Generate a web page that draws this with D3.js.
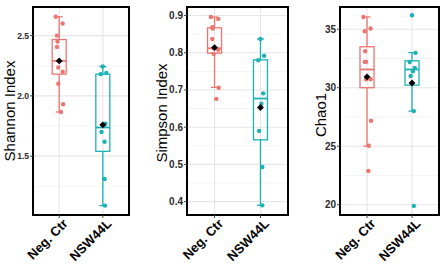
<!DOCTYPE html>
<html><head><meta charset="utf-8">
<script src="https://cdn.jsdelivr.net/npm/d3@7"></script>
<style>body{margin:0;background:#fff}svg{display:block}</style>
</head><body>
<svg id="c" width="447" height="268"></svg>
<script>
// ---- data ----
const categories = ["Neg. Ctr", "NSW44L"];
const metrics = ["Shannon Index", "Simpson Index", "Chao1"];
// raw points per metric per group
const shannonNeg = [2.656, 2.60, 2.50, 2.45, 2.405, 2.235, 2.20, 2.10, 1.93, 1.866];
const shannonNSW = [2.243, 2.19, 2.18, 1.77, 1.755, 1.70, 1.62, 1.31, 1.09];
const simpsonNeg = [0.896, 0.891, 0.869, 0.865, 0.837, 0.812, 0.808, 0.797, 0.706, 0.676];
const simpsonNSW = [0.837, 0.792, 0.780, 0.691, 0.663, 0.590, 0.493, 0.390];
const chaoNeg = [36.05, 35.06, 34.83, 33.12, 32.21, 32.21, 30.73, 30.73, 27.18, 25.04, 22.88];
const chaoNSW = [36.2, 32.98, 32.2, 31.7, 31.4, 31.0, 28.0, 19.9];
// jitter (fraction of category step)
const jitterNeg = [-0.08, 0.08, -0.05, -0.04, -0.05, -0.02, 0.08, -0.02, 0.09, 0.04, 0.03];
const jitterNSW = [0.0, 0.08, -0.05, 0.06, 0.02, -0.03, 0.04, 0.04, 0.05];
// box summaries: [lowWhisker, q1, median, q3, highWhisker, mean]
const shannonBox = [[1.866, 2.18, 2.29, 2.467, 2.656, 2.29], [1.09, 1.54, 1.738, 2.18, 2.243, 1.76]];
const simpsonBox = [[0.707, 0.799, 0.812, 0.867, 0.896, 0.814], [0.390, 0.566, 0.677, 0.781, 0.837, 0.653]];
const chaoBox = [[25.0, 30.0, 31.56, 33.5, 36.05, 30.93], [28.0, 30.22, 31.56, 32.3, 33.0, 30.4]];
// axis ticks
const shannonTicks = [1.5, 2.0, 2.5];
const simpsonTicks = [0.4, 0.5, 0.6, 0.7, 0.8, 0.9];
const chaoTicks = [20, 25, 30, 35];
const shannonDomain = [1.012, 2.737];
const simpsonDomain = [0.364, 0.923];
const chaoDomain = [19.12, 36.9];
const colors = ["#EC7571", "#1DB2B4"];

// ---- layout ----
const panels = [
  {label: metrics[0], pts: [shannonNeg, shannonNSW], box: shannonBox, ticks: shannonTicks, dom: shannonDomain, fmt: d3.format(".1f"), l: 33, r: 129, labX: 15, labY: 111, tf: 8.5},
  {label: metrics[1], pts: [simpsonNeg, simpsonNSW], box: simpsonBox, ticks: simpsonTicks, dom: simpsonDomain, fmt: d3.format(".1f"), l: 187, r: 288, labX: 167, labY: 113, tf: 10},
  {label: metrics[2], pts: [chaoNeg, chaoNSW], box: chaoBox, ticks: chaoTicks, dom: chaoDomain, fmt: d3.format("d"), l: 340, r: 439, labX: 326, labY: 115, tf: 10}
];
const topY = 7, bottomY = 215;
const svg = d3.select("#c");
const jit = [jitterNeg, jitterNSW];
const FONT = "Liberation Sans, Arial, sans-serif";

panels.forEach(p => {
  const x = d3.scalePoint().domain(categories).range([p.l, p.r]).padding(0.6);
  const y = d3.scaleLinear().domain(p.dom).range([bottomY, topY]);
  const g = svg.append("g");
  // grid
  const minor = [];
  for (let i = 0; i < p.ticks.length - 1; i++) minor.push((p.ticks[i] + p.ticks[i+1]) / 2);
  const step = p.ticks[1] - p.ticks[0];
  if (p.ticks[0] - step/2 > p.dom[0]) minor.push(p.ticks[0] - step/2);
  if (p.ticks[p.ticks.length-1] + step/2 < p.dom[1]) minor.push(p.ticks[p.ticks.length-1] + step/2);
  g.selectAll(".mn").data(minor).join("line")
    .attr("x1", p.l).attr("x2", p.r).attr("y1", d => y(d)).attr("y2", d => y(d))
    .attr("stroke", "#F2F2F2").attr("stroke-width", 0.8);
  g.selectAll(".mj").data(p.ticks).join("line")
    .attr("x1", p.l).attr("x2", p.r).attr("y1", d => y(d)).attr("y2", d => y(d))
    .attr("stroke", "#E6E6E6").attr("stroke-width", 1.1);
  g.selectAll(".vg").data(categories).join("line")
    .attr("x1", d => x(d)).attr("x2", d => x(d)).attr("y1", topY).attr("y2", bottomY)
    .attr("stroke", "#E6E6E6").attr("stroke-width", 1.1);

  const bw = 14, cap = 7;
  categories.forEach((c, ci) => {
    const b = p.box[ci], cx = x(c), col = colors[ci];
    g.append("line").attr("x1", cx).attr("x2", cx).attr("y1", y(b[0])).attr("y2", y(b[1])).attr("stroke", col).attr("stroke-width", 1.3);
    g.append("line").attr("x1", cx).attr("x2", cx).attr("y1", y(b[3])).attr("y2", y(b[4])).attr("stroke", col).attr("stroke-width", 1.3);
    [b[0], b[4]].forEach(v => g.append("line").attr("x1", cx - cap/2).attr("x2", cx + cap/2).attr("y1", y(v)).attr("y2", y(v)).attr("stroke", col).attr("stroke-width", 1.3));
    g.append("rect").attr("x", cx - bw/2).attr("y", y(b[3])).attr("width", bw).attr("height", y(b[1]) - y(b[3]))
      .attr("fill", "none").attr("stroke", col).attr("stroke-width", 1.3);
    g.append("line").attr("x1", cx - bw/2).attr("x2", cx + bw/2).attr("y1", y(b[2])).attr("y2", y(b[2])).attr("stroke", col).attr("stroke-width", 1.8);
    const stepPx = x.step();
    g.selectAll(null).data(p.pts[ci]).join("circle")
      .attr("cx", (d, i) => cx + jit[ci][i % jit[ci].length] * stepPx)
      .attr("cy", d => y(d)).attr("r", 2.2).attr("fill", col);
    g.append("path").attr("d", d3.symbol(d3.symbolDiamond2, 30)())
      .attr("transform", `translate(${cx},${y(b[5])})`).attr("fill", "#000");
  });

  g.append("rect").attr("x", p.l).attr("y", topY).attr("width", p.r - p.l).attr("height", bottomY - topY)
    .attr("fill", "none").attr("stroke", "#000").attr("stroke-width", 2);

  g.selectAll(".yt").data(p.ticks).join("text")
    .attr("x", p.l - 4).attr("y", d => y(d)).attr("dy", "0.35em").attr("text-anchor", "end")
    .attr("font-family", FONT).attr("font-size", p.tf).attr("font-weight", "bold").attr("fill", "#2a2a2a")
    .text(d => p.fmt(d));
  g.selectAll(".ytm").data(p.ticks).join("line")
    .attr("x1", p.l - 3).attr("x2", p.l).attr("y1", d => y(d)).attr("y2", d => y(d)).attr("stroke", "#444");
  g.selectAll(".xtm").data(categories).join("line")
    .attr("x1", d => x(d)).attr("x2", d => x(d)).attr("y1", bottomY).attr("y2", bottomY + 3).attr("stroke", "#444");
  g.selectAll(".xt").data(categories).join("text")
    .attr("transform", d => `translate(${x(d) + 3},${bottomY + 3}) rotate(-45)`)
    .attr("text-anchor", "end").attr("dy", "0.7em")
    .attr("font-family", FONT).attr("font-size", 13).attr("font-weight", "bold").attr("fill", "#000")
    .text(d => d);
  g.append("text").attr("transform", `translate(${p.labX},${p.labY}) rotate(-90)`)
    .attr("text-anchor", "middle")
    .attr("font-family", FONT).attr("font-size", 15).attr("fill", "#000")
    .text(p.label);
});
</script>
</body></html>
